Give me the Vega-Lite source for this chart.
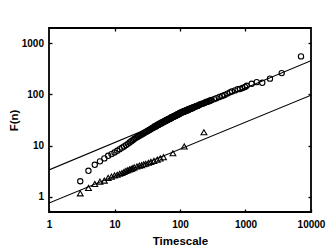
{
  "$schema": "https://vega.github.io/schema/vega-lite/v6.json",
  "width": 262,
  "height": 184,
  "autosize": {"type": "none"},
  "padding": {"left": 49, "top": 28, "right": 24, "bottom": 37},
  "background": "white",
  "config": {
    "view": {"stroke": "black", "strokeWidth": 1.8},
    "font": "Liberation Sans",
    "axis": {
      "domain": false,
      "grid": false,
      "tickColor": "black",
      "tickSize": -3,
      "tickWidth": 1.3,
      "labelFont": "Liberation Sans",
      "labelFontWeight": "bold",
      "labelFontSize": 10,
      "labelColor": "black",
      "titleFont": "Liberation Sans",
      "titleFontWeight": "bold",
      "titleFontSize": 11.5,
      "titleColor": "black"
    }
  },
  "datasets": {
    "fits": [
      {"fit": "upper", "n": 1, "F": 3.34},
      {"fit": "upper", "n": 10000, "F": 457},
      {"fit": "lower", "n": 1, "F": 0.75},
      {"fit": "lower", "n": 10000, "F": 97}
    ],
    "circles": [
      {"n": 3, "F": 2.0}, {"n": 4, "F": 3.2}, {"n": 5, "F": 4.2}, {"n": 6, "F": 4.9},
      {"n": 7, "F": 5.6}, {"n": 8, "F": 6.3}, {"n": 9, "F": 6.8}, {"n": 10, "F": 7.3},
      {"n": 11, "F": 7.9}, {"n": 12, "F": 8.5}, {"n": 13, "F": 9.1}, {"n": 14, "F": 9.6},
      {"n": 15, "F": 10.2}, {"n": 16, "F": 10.8}, {"n": 17, "F": 11.5}, {"n": 18, "F": 12.1},
      {"n": 19, "F": 12.7}, {"n": 20, "F": 13.4}, {"n": 21, "F": 14.0}, {"n": 22, "F": 14.6},
      {"n": 23, "F": 15.1}, {"n": 24, "F": 15.6}, {"n": 25, "F": 16.0}, {"n": 26, "F": 16.5},
      {"n": 27, "F": 17.0}, {"n": 28, "F": 17.5}, {"n": 29, "F": 17.9}, {"n": 30, "F": 18.4},
      {"n": 31, "F": 18.9}, {"n": 32, "F": 19.3}, {"n": 33, "F": 19.8}, {"n": 34, "F": 20.2},
      {"n": 35, "F": 20.6}, {"n": 36, "F": 21.1}, {"n": 37, "F": 21.6}, {"n": 38, "F": 22.0},
      {"n": 39, "F": 22.4}, {"n": 40, "F": 22.8}, {"n": 41, "F": 23.8}, {"n": 42, "F": 23.7},
      {"n": 43, "F": 23.6}, {"n": 44, "F": 24.5}, {"n": 45, "F": 25.6}, {"n": 46, "F": 25.3},
      {"n": 47, "F": 25.2}, {"n": 48, "F": 26.2}, {"n": 49, "F": 27.2}, {"n": 50, "F": 27.0},
      {"n": 51, "F": 26.8}, {"n": 52, "F": 27.7}, {"n": 53, "F": 28.6}, {"n": 54, "F": 28.4},
      {"n": 55, "F": 28.3}, {"n": 56, "F": 29.1}, {"n": 57, "F": 30.0}, {"n": 58, "F": 29.8},
      {"n": 59, "F": 29.6}, {"n": 60, "F": 30.5}, {"n": 61, "F": 31.4}, {"n": 62, "F": 31.2},
      {"n": 63, "F": 30.9}, {"n": 64, "F": 31.8}, {"n": 65, "F": 32.8}, {"n": 66, "F": 32.5},
      {"n": 67, "F": 32.3}, {"n": 68, "F": 33.1}, {"n": 69, "F": 34.0}, {"n": 70, "F": 33.8},
      {"n": 71, "F": 33.6}, {"n": 72, "F": 34.4}, {"n": 73, "F": 35.3}, {"n": 74, "F": 34.5},
      {"n": 75, "F": 35.4}, {"n": 76, "F": 36.2}, {"n": 77, "F": 35.6}, {"n": 78, "F": 36.3},
      {"n": 79, "F": 37.3}, {"n": 80, "F": 37.0}, {"n": 81, "F": 36.8}, {"n": 82, "F": 38.0},
      {"n": 83, "F": 37.8}, {"n": 84, "F": 37.7}, {"n": 85, "F": 38.5}, {"n": 86, "F": 39.2},
      {"n": 87, "F": 38.5}, {"n": 88, "F": 39.3}, {"n": 89, "F": 40.1}, {"n": 90, "F": 40.0},
      {"n": 91, "F": 39.8}, {"n": 92, "F": 41.0}, {"n": 93, "F": 40.8}, {"n": 94, "F": 40.6},
      {"n": 95, "F": 41.5}, {"n": 96, "F": 42.2}, {"n": 97, "F": 41.2}, {"n": 98, "F": 42.3},
      {"n": 99, "F": 43.4}, {"n": 100, "F": 43.0}, {"n": 102, "F": 43.0}, {"n": 103, "F": 44.5},
      {"n": 105, "F": 44.2}, {"n": 107, "F": 45.4}, {"n": 108, "F": 44.2}, {"n": 110, "F": 45.3},
      {"n": 112, "F": 46.4}, {"n": 113, "F": 45.2}, {"n": 115, "F": 46.4}, {"n": 117, "F": 47.6},
      {"n": 118, "F": 46.2}, {"n": 120, "F": 47.5}, {"n": 122, "F": 48.6}, {"n": 123, "F": 47.2},
      {"n": 125, "F": 48.6}, {"n": 127, "F": 49.8}, {"n": 128, "F": 48.3}, {"n": 130, "F": 49.6},
      {"n": 132, "F": 50.8}, {"n": 133, "F": 49.3}, {"n": 135, "F": 50.7}, {"n": 137, "F": 51.9},
      {"n": 138, "F": 50.6}, {"n": 140, "F": 51.7}, {"n": 142, "F": 52.8}, {"n": 145, "F": 52.7},
      {"n": 148, "F": 53.0}, {"n": 150, "F": 53.7}, {"n": 153, "F": 54.8}, {"n": 155, "F": 53.6},
      {"n": 158, "F": 55.2}, {"n": 161, "F": 56.3}, {"n": 165, "F": 56.6}, {"n": 168, "F": 56.7},
      {"n": 172, "F": 57.9}, {"n": 175, "F": 59.0}, {"n": 180, "F": 59.3}, {"n": 185, "F": 59.5},
      {"n": 190, "F": 61.1}, {"n": 195, "F": 62.5}, {"n": 200, "F": 62.9}, {"n": 210, "F": 65.5},
      {"n": 220, "F": 66.0}, {"n": 230, "F": 67.0}, {"n": 240, "F": 69.1}, {"n": 250, "F": 71.0},
      {"n": 260, "F": 71.8}, {"n": 270, "F": 72.5}, {"n": 280, "F": 74.5}, {"n": 290, "F": 76.5},
      {"n": 300, "F": 77.1}, {"n": 330, "F": 80.9}, {"n": 360, "F": 84.5},
      {"n": 400, "F": 89.1}, {"n": 440, "F": 93.4}, {"n": 480, "F": 97.6}, {"n": 530, "F": 104},
      {"n": 577, "F": 110}, {"n": 620, "F": 114}, {"n": 692, "F": 120}, {"n": 760, "F": 127},
      {"n": 824, "F": 128}, {"n": 900, "F": 134}, {"n": 983, "F": 140}, {"n": 1043, "F": 148},
      {"n": 1244, "F": 162}, {"n": 1482, "F": 174}, {"n": 1803, "F": 169}, {"n": 2366, "F": 204},
      {"n": 3572, "F": 262}, {"n": 7036, "F": 556}
    ],
    "triangles": [
      {"n": 3, "F": 1.16}, {"n": 4, "F": 1.48}, {"n": 5, "F": 1.77}, {"n": 6, "F": 1.97},
      {"n": 7, "F": 2.06}, {"n": 8, "F": 2.33}, {"n": 9, "F": 2.47}, {"n": 10, "F": 2.6},
      {"n": 11, "F": 2.68}, {"n": 12, "F": 2.8}, {"n": 13, "F": 2.9}, {"n": 14, "F": 3.05},
      {"n": 15, "F": 3.2}, {"n": 16, "F": 3.3}, {"n": 17, "F": 3.4}, {"n": 18, "F": 3.5},
      {"n": 19, "F": 3.6}, {"n": 20, "F": 3.75}, {"n": 22, "F": 3.9}, {"n": 24, "F": 4.05},
      {"n": 26, "F": 4.15}, {"n": 28, "F": 4.3}, {"n": 30, "F": 4.4}, {"n": 33, "F": 4.6},
      {"n": 36, "F": 4.8}, {"n": 40, "F": 5.0}, {"n": 45, "F": 5.3}, {"n": 50, "F": 5.6},
      {"n": 56, "F": 5.9}, {"n": 78, "F": 7.05}, {"n": 116, "F": 9.6}, {"n": 232, "F": 18.2}
    ]
  },
  "layer": [
    {
      "data": {"name": "fits"},
      "mark": {"type": "line", "color": "black", "strokeWidth": 1.1, "clip": true},
      "encoding": {
        "x": {
          "field": "n", "type": "quantitative",
          "scale": {"type": "log", "domain": [1, 10000], "nice": false},
          "axis": {"orient": "bottom", "values": [1, 10, 100, 1000, 10000], "format": "d", "labelPadding": 10, "title": "Timescale", "titlePadding": 6, "labelFlush": false, "labelOverlap": false}
        },
        "y": {
          "field": "F", "type": "quantitative",
          "scale": {"type": "log", "domain": [0.5, 2000], "nice": false},
          "axis": {"orient": "left", "values": [1, 10, 100, 1000], "format": "d", "labelPadding": 8.5, "title": "F(n)", "titlePadding": 2}
        },
        "detail": {"field": "fit", "type": "nominal"}
      }
    },
    {
      "data": {"name": "circles"},
      "mark": {"type": "point", "shape": "circle", "filled": false, "color": "black", "size": 28, "strokeWidth": 1.1, "opacity": 1},
      "encoding": {
        "x": {"field": "n", "type": "quantitative", "axis": null},
        "y": {"field": "F", "type": "quantitative", "axis": null}
      }
    },
    {
      "data": {"name": "triangles"},
      "mark": {"type": "point", "shape": "triangle-up", "filled": false, "color": "black", "size": 34, "strokeWidth": 1.1, "opacity": 1},
      "encoding": {
        "x": {"field": "n", "type": "quantitative", "axis": null},
        "y": {"field": "F", "type": "quantitative", "axis": null}
      }
    },
    {
      "data": {"name": "fits"},
      "mark": {"type": "point", "opacity": 0},
      "encoding": {
        "x": {"field": "n", "type": "quantitative", "axis": {"orient": "top", "values": [10, 100, 1000], "labels": false, "title": null}},
        "y": {"field": "F", "type": "quantitative", "axis": {"orient": "right", "values": [1, 10, 100, 1000], "labels": false, "title": null}}
      }
    }
  ],
  "resolve": {"axis": {"x": "independent", "y": "independent"}}
}
